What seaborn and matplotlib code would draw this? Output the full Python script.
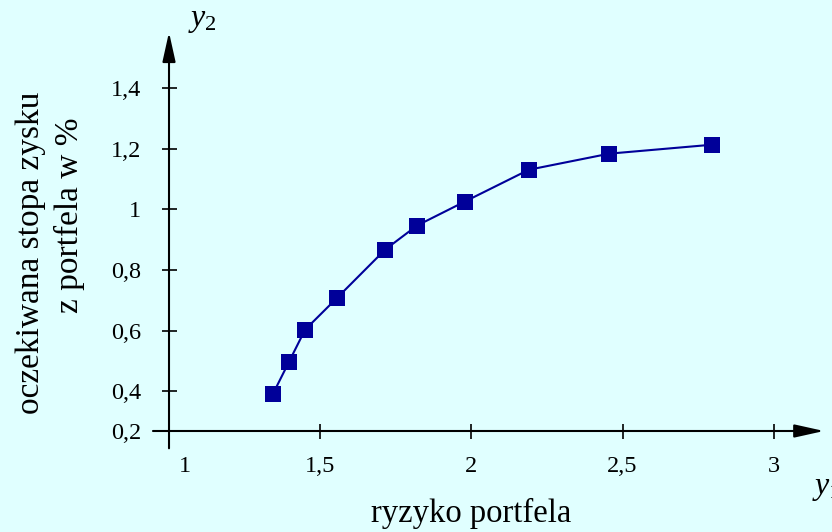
import matplotlib
matplotlib.use("Agg")
import matplotlib.pyplot as plt
import seaborn as sns
import pandas as pd

# ---- data ----
risk = [1.344, 1.397, 1.450, 1.556, 1.715, 1.820, 1.978, 2.190, 2.456, 2.796]
ret = [0.392, 0.4975, 0.603, 0.708, 0.867, 0.946, 1.025, 1.130, 1.183, 1.2125]
x_ticks = [1.5, 2.0, 2.5, 3.0]
x_tick_labels = ["1,5", "2", "2,5", "3"]
y_ticks = [0.4, 0.6, 0.8, 1.0, 1.2, 1.4]
y_tick_labels = ["0,4", "0,6", "0,8", "1", "1,2", "1,4"]
x_label = "ryzyko portfela"
y_label_1 = "oczekiwana stopa zysku"
y_label_2 = "z portfela w %"

df = pd.DataFrame({"ryzyko": risk, "zysk": ret})

sns.set_theme(style="white")
plt.rcParams["font.family"] = ["Liberation Serif", "DejaVu Serif"]
plt.rcParams["mathtext.fontset"] = "custom"
plt.rcParams["mathtext.rm"] = "Liberation Serif"
plt.rcParams["mathtext.it"] = "Liberation Serif:italic"

BG = "#e0ffff"
NAVY = "#000099"

fig = plt.figure(figsize=(8.32, 5.32), dpi=100, facecolor=BG)
ax = fig.add_axes([0, 0, 1, 1])
ax.set_facecolor(BG)

sns.lineplot(data=df, x="ryzyko", y="zysk", ax=ax, color=NAVY, linewidth=1.5,
             marker="s", markersize=11.5, markeredgewidth=0, markerfacecolor=NAVY,
             sort=False, estimator=None)

ax.set_xlim(0.4411, 3.1925)
ax.set_ylim(-0.0636, 1.6893)

y_axis_at = 1.0      # x value where the vertical axis sits
x_axis_at = 0.2692   # y value where the horizontal axis sits (labelled 0,2)

for s in ax.spines.values():
    s.set_visible(False)
ax.spines["left"].set_position(("data", y_axis_at))
ax.spines["bottom"].set_position(("data", x_axis_at))

# axis lines with arrows
arrow = dict(arrowstyle="-|>,head_length=0.9,head_width=0.2", mutation_scale=20,
             lw=1.5, color="black", shrinkA=0, shrinkB=0)
ax.annotate("", xy=(3.166, x_axis_at), xytext=(0.947, x_axis_at), arrowprops=arrow)
ax.annotate("", xy=(y_axis_at, 1.583), xytext=(y_axis_at, 0.2122), arrowprops=arrow)

ax.set_xticks(x_ticks)
ax.set_xticklabels(x_tick_labels)
ax.set_yticks(y_ticks + [x_axis_at])
ax.set_yticklabels(y_tick_labels + ["0,2"])
ax.tick_params(axis="both", direction="inout", length=10.8, width=1.2,
               color="black", labelsize=17.5, labelcolor="black",
               bottom=True, left=True, top=False, right=False)
ax.tick_params(axis="x", pad=12.5)
ax.tick_params(axis="y", pad=14.5)
ax.set_xlabel("")
ax.set_ylabel("")

# the "1" label sits right of the vertical axis
ax.annotate("1", xy=(y_axis_at, x_axis_at), xytext=(11.2, -18), textcoords="offset points",
            ha="center", va="top", fontsize=17.5, color="black")

ax.text(2.0, -0.0316, x_label, ha="center", va="baseline", fontsize=23.5, color="black")
ax.text(0.5427, 0.8557, y_label_1, rotation=90, ha="center", va="center", fontsize=24, color="black")
ax.text(0.6716, 0.979, y_label_2, rotation=90, ha="center", va="center", fontsize=24, color="black")
ax.text(1.062, 1.6036, r"$y_2$", ha="left", va="baseline", fontsize=23, color="black")
ax.text(3.125, 0.0616, r"$y_1$", ha="left", va="baseline", fontsize=23, color="black")

fig.savefig("out.png", dpi=100, facecolor=BG)
